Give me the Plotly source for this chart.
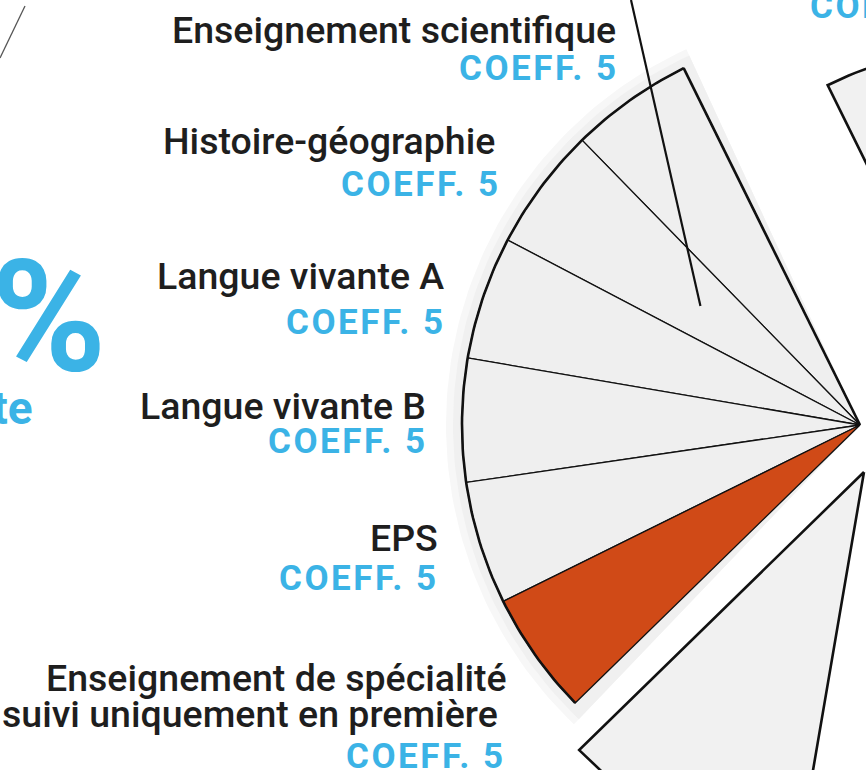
import numpy as np
import plotly.graph_objects as go

# ---------------- data ----------------
subjects = ["Enseignement scientifique", "Histoire-géographie", "Langue vivante A",
            "Langue vivante B", "EPS",
            "Enseignement de spécialité|suivi uniquement en première"]
coefficients = [5, 5, 5, 5, 5, 5]
coeff_labels = ["COEFF. 5", "COEFF. 5", "COEFF. 5", "COEFF. 5", "COEFF. 5", "COEFF. 5"]
other_parts = ["Moyenne des bulletins", "Épreuves finales"]
other_values = [10, 60]
highlight_index = 5
big_figure = "30%"
big_caption = "de la note"
cut_label = "COEFF. 16"

# ---------------- style ----------------
W, H = 866, 770
CX, CY, R = 860, 425, 398
START = 116.3                      # angle (deg, counter-clockwise) of first slice edge
EXPLODE = [(4, 47), (144, 17)]     # pixel offsets for the other parts
GRAY = "#efefef"
ORANGE = "#d04a17"
BLUE = "#3bb3e6"
BLACK = "#1e1e1e"
black_pos = [(618, 30), (497, 141), (446, 276), (428, 406), (440, 538), (509, 678), (500, 714)]
blue_pos = [(621, 68), (503, 184), (448, 322), (430, 441), (441, 578), (508, 756)]

TOTAL = sum(coefficients) + sum(other_values)
DEG = 360.0 / TOTAL


def sector(cx, cy, r, a0, a1, n=90):
    a = np.radians(np.linspace(a0, a1, n))
    xs = np.concatenate([[cx], cx + r * np.cos(a), [cx]])
    ys = np.concatenate([[cy], cy - r * np.sin(a), [cy]])
    return xs, ys


def arc(cx, cy, r, a0, a1, n=120):
    a = np.radians(np.linspace(a0, a1, n))
    return cx + r * np.cos(a), cy - r * np.sin(a)


fig = go.Figure()

# cumulative angles
edges = [START]
for v in coefficients:
    edges.append(edges[-1] + v * DEG)
group_end = edges[-1]

# halo behind the group
for dr, col in [(16, "#f7f7f7"), (9, "#f0f0f0")]:
    xs, ys = sector(CX, CY, R + dr, START - 1.5, group_end + 2)
    fig.add_trace(go.Scatter(x=xs, y=ys, fill="toself", fillcolor=col, mode="lines",
                             line=dict(width=0, color=col), hoverinfo="skip", showlegend=False))

# group slices
for i, v in enumerate(coefficients):
    xs, ys = sector(CX, CY, R, edges[i], edges[i + 1])
    col = ORANGE if i == highlight_index else GRAY
    fig.add_trace(go.Scatter(x=xs, y=ys, fill="toself", fillcolor=col, mode="lines",
                             line=dict(width=1.3, color="#111"), hoverinfo="skip",
                             showlegend=False, name=subjects[i].replace("|", " ")))

# outer arc & top edge, heavier
ax_, ay_ = arc(CX, CY, R, START, group_end)
fig.add_trace(go.Scatter(x=ax_, y=ay_, mode="lines", line=dict(width=2.6, color="#111"),
                         hoverinfo="skip", showlegend=False))
tx, ty = arc(CX, CY, R, START, START, n=1)
fig.add_trace(go.Scatter(x=[CX, tx[0]], y=[CY, ty[0]], mode="lines",
                         line=dict(width=2.6, color="#111"), hoverinfo="skip", showlegend=False))

# exploded other parts
a0 = group_end
for v, (dx, dy), name in zip(other_values, EXPLODE, other_parts):
    a1 = a0 + v * DEG
    xs, ys = sector(CX + dx, CY + dy, R, a0, a1, n=200)
    fig.add_trace(go.Scatter(x=xs, y=ys, fill="toself", fillcolor="#f1f1f1", mode="lines",
                             line=dict(width=2.6, color="#111"), hoverinfo="skip",
                             showlegend=False, name=name))
    a0 = a1

# leader line from top to the middle of the second slice
mid = np.radians((edges[1] + edges[2]) / 2)
lx, ly = CX + 0.5 * R * np.cos(mid), CY - 0.5 * R * np.sin(mid)
fig.add_trace(go.Scatter(x=[631, lx], y=[0, ly], mode="lines",
                         line=dict(width=2.2, color="#111"), hoverinfo="skip", showlegend=False))

# labels
ann = []
lines = []
for s in subjects:
    lines.extend(s.split("|"))
for txt, (x, y) in zip(lines, black_pos):
    ann.append(dict(x=x, y=y, xref="x", yref="y", text=txt, showarrow=False,
                    xanchor="right", yanchor="middle",
                    font=dict(family="Roboto", size=37.5, color=BLACK, weight=500)))
for txt, (x, y) in zip(coeff_labels, blue_pos):
    ann.append(dict(x=x, y=y, xref="x", yref="y",
                    text=f'<span style="letter-spacing:2.5px">{txt}</span>', showarrow=False,
                    xanchor="right", yanchor="middle",
                    font=dict(family="Roboto", size=35, color=BLUE, weight=700)))
# cut-off texts on the left / top
ann.append(dict(x=108, y=316, xref="x", yref="y", text=big_figure, showarrow=False,
                xanchor="right", yanchor="middle",
                font=dict(family="Roboto", size=156, color=BLUE, weight=700)))
ann.append(dict(x=35, y=408, xref="x", yref="y", text=big_caption, showarrow=False,
                xanchor="right", yanchor="middle",
                font=dict(family="Roboto", size=46, color=BLUE, weight=700)))
ann.append(dict(x=808, y=6, xref="x", yref="y",
                text=f'<span style="letter-spacing:2.5px">{cut_label}</span>', showarrow=False,
                xanchor="left", yanchor="middle",
                font=dict(family="Roboto", size=35, color=BLUE, weight=700)))

fig.update_layout(
    width=W, height=H, margin=dict(l=0, r=0, t=0, b=0),
    paper_bgcolor="white", plot_bgcolor="white",
    xaxis=dict(range=[0, W], visible=False, fixedrange=True),
    yaxis=dict(range=[H, 0], visible=False, fixedrange=True),
    annotations=ann,
    shapes=[dict(type="line", xref="x", yref="y", x0=25, y0=6, x1=0, y1=58,
                 line=dict(color="#555", width=1.3))],
)

fig.write_html("out.html", config={"displayModeBar": False},
               post_script="document.body.style.margin='0';document.body.style.overflow='hidden';")
